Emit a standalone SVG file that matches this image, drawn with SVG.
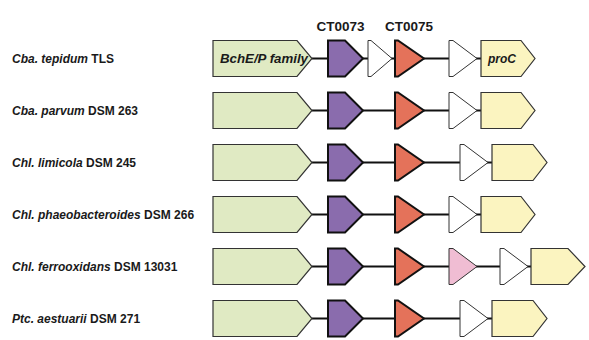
<svg xmlns="http://www.w3.org/2000/svg" width="589" height="340" viewBox="0 0 589 340">
<style>
text{font-family:"Liberation Sans",Arial,sans-serif;font-weight:bold;fill:#1a1a1a}
.lab{font-size:12px}
.hdr{font-size:13.5px;text-anchor:middle}
.in{font-size:12px;font-style:italic}
.g{fill:#e0eac3;stroke:#333;stroke-width:1.2}
.p{fill:#8a6cad;stroke:#111;stroke-width:2}
.r{fill:#e4725a;stroke:#111;stroke-width:2}
.w{fill:#fff;stroke:#333;stroke-width:1}
.k{fill:#f0bdd3;stroke:#333;stroke-width:1}
.y{fill:#fbf4c0;stroke:#333;stroke-width:1.2}
.ln{stroke:#111;stroke-width:2;fill:none}
</style>
<rect width="589" height="340" fill="#fff"/>
<text class="hdr" x="340.5" y="31">CT0073</text>
<text class="hdr" x="409" y="31">CT0075</text>
<g id="labels">
<text class="lab" x="12" y="62.5"><tspan font-style="italic">Cba. tepidum</tspan> TLS</text>
<text class="lab" x="12" y="114.5"><tspan font-style="italic">Cba. parvum</tspan> DSM 263</text>
<text class="lab" x="12" y="166.5"><tspan font-style="italic">Chl. limicola</tspan> DSM 245</text>
<text class="lab" x="12" y="218.5"><tspan font-style="italic">Chl. phaeobacteroides</tspan> DSM 266</text>
<text class="lab" x="12" y="270.5"><tspan font-style="italic">Chl. ferrooxidans</tspan> DSM 13031</text>
<text class="lab" x="12" y="322.5"><tspan font-style="italic">Ptc. aestuarii</tspan> DSM 271</text>
</g>
<g id="connectors">
<line class="ln" x1="312" y1="58.5" x2="481" y2="58.5"/>
<line class="ln" x1="312" y1="110.5" x2="481" y2="110.5"/>
<line class="ln" x1="312" y1="162.5" x2="492" y2="162.5"/>
<line class="ln" x1="312" y1="214.5" x2="481" y2="214.5"/>
<line class="ln" x1="312" y1="266.5" x2="531" y2="266.5"/>
<line class="ln" x1="312" y1="318.5" x2="492" y2="318.5"/>
</g>
<!-- row 1 -->
<g id="r1-bche"><path class="g" d="M213,40.5H297L312,58.5L297,76.5H213Z"/><text class="in" x="220" y="62.5" textLength="88" lengthAdjust="spacingAndGlyphs">BchE/P family</text></g>
<g id="r1-ct0073"><path class="p" d="M328,40.5H345L363,58.5L345,76.5H328Z"/></g>
<g id="r1-orf"><path class="w" d="M368,40.5H371L392,58.5L371,76.5H368Z"/></g>
<g id="r1-ct0075"><path class="r" d="M395,40.5H398L424,58.5L398,76.5H395Z"/></g>
<g id="r1-white"><path class="w" d="M449,40.5H453L477,58.5L453,76.5H449Z"/></g>
<g id="r1-proc"><path class="y" d="M481,40.5H521L535,58.5L521,76.5H481Z"/><text class="in" x="488" y="63">proC</text></g>
<!-- row 2 -->
<g id="r2-bche"><path class="g" d="M213,92.5H297L312,110.5L297,128.5H213Z"/></g>
<g id="r2-ct0073"><path class="p" d="M328,92.5H345L363,110.5L345,128.5H328Z"/></g>
<g id="r2-ct0075"><path class="r" d="M395,92.5H398L424,110.5L398,128.5H395Z"/></g>
<g id="r2-white"><path class="w" d="M449,92.5H453L477,110.5L453,128.5H449Z"/></g>
<g id="r2-proc"><path class="y" d="M481,92.5H521L535,110.5L521,128.5H481Z"/></g>
<!-- row 3 -->
<g id="r3-bche"><path class="g" d="M213,144.5H297L312,162.5L297,180.5H213Z"/></g>
<g id="r3-ct0073"><path class="p" d="M328,144.5H345L363,162.5L345,180.5H328Z"/></g>
<g id="r3-ct0075"><path class="r" d="M395,144.5H398L424,162.5L398,180.5H395Z"/></g>
<g id="r3-white"><path class="w" d="M460,144.5H464L488,162.5L464,180.5H460Z"/></g>
<g id="r3-proc"><path class="y" d="M492,144.5H533L547,162.5L533,180.5H492Z"/></g>
<!-- row 4 -->
<g id="r4-bche"><path class="g" d="M213,196.5H297L312,214.5L297,232.5H213Z"/></g>
<g id="r4-ct0073"><path class="p" d="M328,196.5H345L363,214.5L345,232.5H328Z"/></g>
<g id="r4-ct0075"><path class="r" d="M395,196.5H398L424,214.5L398,232.5H395Z"/></g>
<g id="r4-white"><path class="w" d="M449,196.5H453L477,214.5L453,232.5H449Z"/></g>
<g id="r4-proc"><path class="y" d="M481,196.5H521L535,214.5L521,232.5H481Z"/></g>
<!-- row 5 -->
<g id="r5-bche"><path class="g" d="M213,248.5H297L312,266.5L297,284.5H213Z"/></g>
<g id="r5-ct0073"><path class="p" d="M328,248.5H345L363,266.5L345,284.5H328Z"/></g>
<g id="r5-ct0075"><path class="r" d="M395,248.5H398L424,266.5L398,284.5H395Z"/></g>
<g id="r5-pink"><path class="k" d="M449,248.5H453L477,266.5L453,284.5H449Z"/></g>
<g id="r5-white"><path class="w" d="M500,248.5H504L528,266.5L504,284.5H500Z"/></g>
<g id="r5-proc"><path class="y" d="M531,248.5H568L585,266.5L568,284.5H531Z"/></g>
<!-- row 6 -->
<g id="r6-bche"><path class="g" d="M213,300.5H297L312,318.5L297,336.5H213Z"/></g>
<g id="r6-ct0073"><path class="p" d="M328,300.5H345L363,318.5L345,336.5H328Z"/></g>
<g id="r6-ct0075"><path class="r" d="M395,300.5H398L424,318.5L398,336.5H395Z"/></g>
<g id="r6-white"><path class="w" d="M460,300.5H464L488,318.5L464,336.5H460Z"/></g>
<g id="r6-proc"><path class="y" d="M492,300.5H533L547,318.5L533,336.5H492Z"/></g>
</svg>
